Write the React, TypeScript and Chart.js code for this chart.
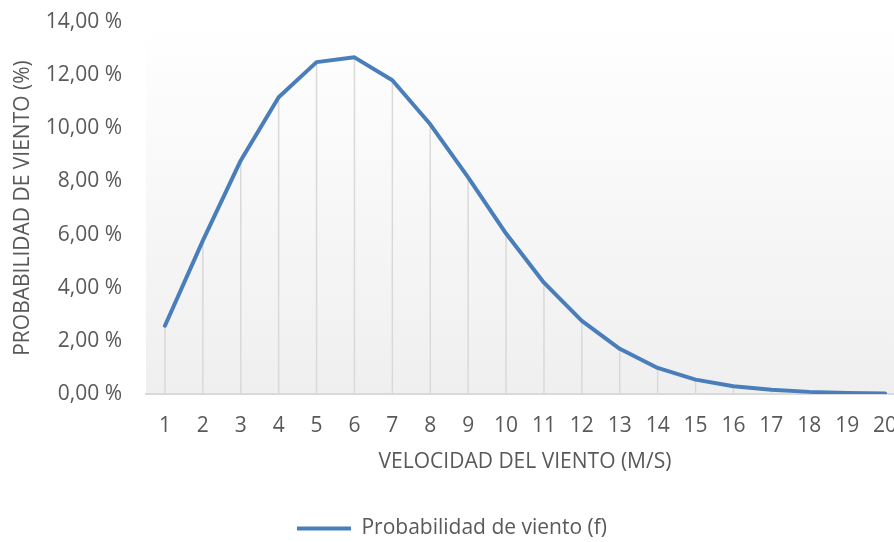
import React, { useEffect, useRef } from 'react';
import { Chart, registerables } from 'chart.js';

Chart.register(...registerables);

const categories = ['1', '2', '3', '4', '5', '6', '7', '8', '9', '10', '11', '12', '13', '14', '15', '16', '17', '18', '19', '20'];
const probabilidad = [2.57, 5.77, 8.79, 11.17, 12.49, 12.67, 11.81, 10.15, 8.15, 6.04, 4.19, 2.75, 1.7, 0.98, 0.54, 0.29, 0.16, 0.08, 0.04, 0.02];
const yMin = 0;
const yMax = 14;
const yStep = 2;
const seriesLabel = 'Probabilidad de viento (f)';
const xTitle = 'VELOCIDAD DEL VIENTO (M/S)';
const yTitle = 'PROBABILIDAD DE VIENTO (%)';

const FONT = "'Open Sans', sans-serif";
const FS = 21;
const TEXT = '#595959';
const LINE = '#4A7EBB';
const GRID = '#d9d9d9';
const W = 910;
const H = 549;

const bgPlugin = {
  id: 'plotBg',
  beforeDraw(chart: any) {
    const { ctx, chartArea } = chart;
    if (!chartArea) return;
    const g = ctx.createLinearGradient(0, chartArea.top, 0, chartArea.bottom);
    g.addColorStop(0, '#ffffff');
    g.addColorStop(1, '#efefef');
    ctx.save();
    ctx.fillStyle = g;
    ctx.fillRect(chartArea.left, chartArea.top, chartArea.right - chartArea.left, chartArea.bottom - chartArea.top);
    ctx.restore();
  },
};

const dropLinePlugin = {
  id: 'dropLines',
  beforeDatasetsDraw(chart: any) {
    const { ctx, chartArea } = chart;
    const meta = chart.getDatasetMeta(0);
    ctx.save();
    ctx.strokeStyle = GRID;
    ctx.lineWidth = 1.5;
    meta.data.forEach((pt: any) => {
      ctx.beginPath();
      ctx.moveTo(pt.x, pt.y);
      ctx.lineTo(pt.x, chartArea.bottom);
      ctx.stroke();
    });
    ctx.restore();
  },
};

export default function App() {
  const ref = useRef<HTMLCanvasElement>(null);
  useEffect(() => {
    if (!ref.current) return;
    const chart = new Chart(ref.current, {
      type: 'line',
      data: {
        labels: categories,
        datasets: [
          {
            label: seriesLabel,
            data: probabilidad,
            borderColor: LINE,
            backgroundColor: LINE,
            borderWidth: 4,
            pointRadius: 0,
            pointHoverRadius: 0,
            tension: 0,
            borderCapStyle: 'round',
            borderJoinStyle: 'round',
            fill: false,
          },
        ],
      },
      options: {
        responsive: false,
        animation: false,
        devicePixelRatio: 1,
        layout: { padding: { top: 22, right: 6, bottom: 0, left: 0 } },
        plugins: {
          tooltip: { enabled: false },
          legend: {
            display: true,
            position: 'bottom',
            labels: {
              usePointStyle: true,
              pointStyle: 'line',
              pointStyleWidth: 54,
              color: TEXT,
              padding: 6,
              font: { family: FONT, size: FS },
            },
          },
        },
        scales: {
          x: {
            type: 'category',
            offset: true,
            grid: { display: false, drawTicks: false },
            border: { display: true, color: GRID, width: 2 },
            ticks: { color: TEXT, padding: 19, font: { family: FONT, size: FS }, maxRotation: 0, autoSkip: false },
            title: { display: true, text: xTitle, color: TEXT, font: { family: FONT, size: FS }, padding: { top: 10, bottom: 37 } },
            afterFit(scale: any) {
              scale.height = 118;
              scale.paddingLeft = 0;
              scale.paddingRight = 0;
            },
          },
          y: {
            min: yMin,
            max: yMax,
            grid: { display: false, drawTicks: false },
            border: { display: false },
            ticks: {
              stepSize: yStep,
              color: TEXT,
              padding: 24,
              font: { family: FONT, size: FS },
              callback: (v: any) => Number(v).toFixed(2).replace('.', ',') + ' %',
            },
            title: { display: true, text: yTitle, color: TEXT, font: { family: FONT, size: FS }, padding: { top: 10, bottom: 0 } },
            afterFit(scale: any) {
              scale.width = 146;
              scale.paddingTop = 0;
              scale.paddingBottom = 0;
            },
          },
        },
      },
      plugins: [bgPlugin, dropLinePlugin],
    });
    return () => chart.destroy();
  }, []);
  return (
    <div style={{ position: 'fixed', left: 0, top: 0, width: W, height: H, background: '#ffffff' }}>
      <canvas ref={ref} width={W} height={H} style={{ width: W, height: H, display: 'block' }} />
    </div>
  );
}
